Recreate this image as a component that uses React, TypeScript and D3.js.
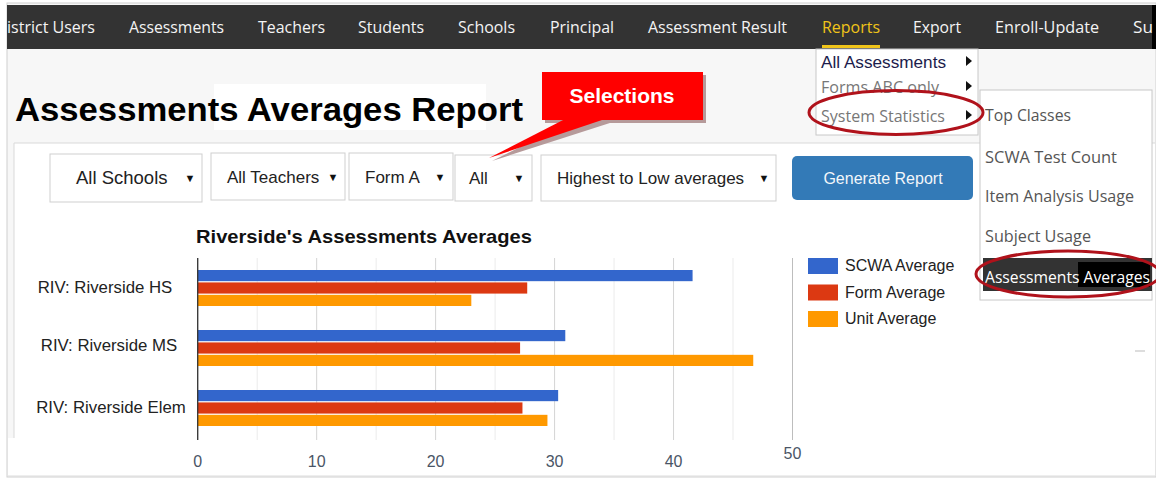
import React from "react";
import * as d3 from "d3";

// chart values
const SCHOOLS = ["RIV: Riverside HS", "RIV: Riverside MS", "RIV: Riverside Elem"];
const SCWA_AVG = [41.6, 30.9, 30.3];
const FORM_AVG = [27.7, 27.1, 27.3];
const UNIT_AVG = [23.0, 46.7, 29.4];
const SERIES = ["SCWA Average", "Form Average", "Unit Average"];
const COLORS = ["#3366cc", "#dc3912", "#ff9900"];
const X_TICKS = [0, 10, 20, 30, 40, 50];

const NAV = [
  "istrict Users",
  "Assessments",
  "Teachers",
  "Students",
  "Schools",
  "Principal",
  "Assessment Result",
  "Reports",
  "Export",
  "Enroll-Update",
  "Su",
];
const NAV_X = [7, 129, 258, 358, 458, 550, 648, 822, 913, 995, 1133];
const NAV_W = [88, 95, 67, 66, 57, 64, 139, 58, 48, 104, 20];

const MENU = ["All Assessments", "Forms ABC only", "System Statistics"];
const SUBMENU = ["Top Classes", "SCWA Test Count", "Item Analysis Usage", "Subject Usage"];

const W = 1156;
const H = 478;

export default function App() {
  const values = SCHOOLS.map((s, i) => ({
    school: s,
    vals: [SCWA_AVG[i], FORM_AVG[i], UNIT_AVG[i]],
  }));

  const x = d3.scaleLinear().domain([0, 50]).range([197.7, 792.5]);
  const y = d3
    .scaleBand()
    .domain(SCHOOLS)
    .range([258, 438])
    .paddingInner(0.4)
    .paddingOuter(0.2);
  const ySub = d3
    .scaleBand()
    .domain(SERIES)
    .range([0, y.bandwidth()])
    .paddingInner(0.1);
  const grid = d3.range(0, 51, 5);

  const navFont = "'Open Sans', 'Noto Sans', sans-serif";
  const arial = "'Liberation Sans', Arial, sans-serif";

  // dropdown boxes: [x, y, w, h, label, labelX, arrowX, fontSize]
  const selects: [number, number, number, number, string, number, number, number][] = [
    [50, 154, 152, 48, "All Schools", 76, 190, 18.5],
    [211, 153, 134, 47, "All Teachers", 227, 333, 17],
    [349, 153, 104, 47, "Form A", 365, 440, 17],
    [455, 155, 77, 46, "All", 469, 519, 17],
    [541, 155, 235, 46, "Highest to Low averages", 557, 764, 17],
  ];

  return (
    <svg
      width={W}
      height={H}
      style={{ position: "absolute", left: 0, top: 0, background: "#fff" }}
    >
      {/* page frame */}
      <rect x={0} y={0} width={W} height={H} fill="#fff" />
      <rect x={7} y={3} width={W - 7} height={H - 4} fill="#f7f7f7" stroke="#d0d0d0" />

      {/* nav bar */}
      <rect x={7} y={5} width={1146} height={44} fill="#333" />
      <rect x={1152} y={5} width={4} height={44} fill="#000" />
      {NAV.map((n, i) => (
        <text
          key={n}
          x={NAV_X[i]}
          y={33}
          fill={n === "Reports" ? "#f0c419" : "#f4f4f4"}
          fontFamily={navFont}
          fontSize={16}
          textLength={NAV_W[i]}
          lengthAdjust="spacingAndGlyphs"
        >
          {n}
        </text>
      ))}
      <rect x={822} y={45} width={58} height={3} fill="#f0c419" />

      {/* page title */}
      <rect x={214} y={84} width={272} height={46} fill="#fff" />
      <text
        x={15}
        y={121}
        fontFamily={arial}
        fontWeight="bold"
        fontSize={33}
        fill="#000"
        textLength={508}
        lengthAdjust="spacingAndGlyphs"
      >
        Assessments Averages Report
      </text>

      {/* report panel */}
      <rect x={14} y={143} width={1141} height={300} fill="#fff" />
      <path d="M14,443 V143 H1155" fill="none" stroke="#d9d9d9" />
      <rect x={8} y={438} width={1147} height={38} fill="#fff" />
      <line x1={8} x2={1155} y1={476} y2={476} stroke="#ddd" />

      {selects.map(([sx, sy, sw, sh, label, lx, ax, fs]) => (
        <g key={label}>
          <rect x={sx} y={sy} width={sw} height={sh} fill="#fff" stroke="#cfcfcf" />
          <text x={lx} y={sy + sh / 2 + 6} fontFamily={arial} fontSize={fs} fill="#222">
            {label}
          </text>
          <text x={ax} y={sy + sh / 2 + 4} fontFamily={arial} fontSize={11} fill="#111" textAnchor="middle">
            ▼
          </text>
        </g>
      ))}
      <rect x={792} y={156} width={181} height={44} rx={5} fill="#337ab7" />
      <text x={883} y={184} fontFamily={arial} fontSize={16} fill="#f2f6fa" textAnchor="middle">
        Generate Report
      </text>

      {/* chart title */}
      <text
        x={196}
        y={243}
        fontFamily={arial}
        fontWeight="bold"
        fontSize={19}
        fill="#111"
        textLength={336}
        lengthAdjust="spacingAndGlyphs"
      >
        Riverside's Assessments Averages
      </text>

      {/* gridlines */}
      {grid.map((g) => (
        <line
          key={g}
          x1={x(g)}
          x2={x(g)}
          y1={258}
          y2={440}
          stroke={g === 50 ? "#bdbdbd" : g % 10 === 0 ? "#d4d4d4" : "#ebebeb"}
          strokeWidth={1}
        />
      ))}

      {/* bars */}
      {values.map((d) => (
        <g key={d.school} transform={`translate(0,${y(d.school)})`}>
          {d.vals.map((v, j) => (
            <rect
              key={SERIES[j]}
              x={x(0)}
              y={ySub(SERIES[j])}
              width={x(v) - x(0)}
              height={ySub.bandwidth()}
              fill={COLORS[j]}
            />
          ))}
        </g>
      ))}
      <line x1={x(0)} x2={x(0)} y1={258} y2={440} stroke="#333" strokeWidth={1.3} />

      {/* category labels */}
      {SCHOOLS.map((s, i) => (
        <text
          key={s}
          x={[105, 109, 111][i]}
          y={(y(s) ?? 0) + y.bandwidth() / 2 + [5, 3, 5][i]}
          textAnchor="middle"
          fontFamily={arial}
          fontSize={16.8}
          fill="#222"
        >
          {s}
        </text>
      ))}

      {/* x tick labels */}
      {X_TICKS.map((t) => (
        <text
          key={t}
          x={x(t)}
          y={t === 50 ? 459 : 467}
          textAnchor="middle"
          fontFamily={arial}
          fontSize={16}
          fill="#4a5566"
        >
          {t}
        </text>
      ))}

      {/* legend */}
      {SERIES.map((s, i) => (
        <g key={s} transform={`translate(808,${258 + i * 26.5})`}>
          <rect width={30} height={16} fill={COLORS[i]} />
          <text x={37} y={13} fontFamily={arial} fontSize={16} fill="#222">
            {s}
          </text>
        </g>
      ))}
      <line x1={1135} x2={1145} y1={351} y2={351} stroke="#bbb" />

      {/* Selections callout */}
      <g transform="translate(3,3)" fill="#b69a9a">
        <rect x={542} y={72} width={161} height={48} />
        <polygon points="567,119 610,119 489,158" />
      </g>
      <rect x={542} y={72} width={161} height={48} fill="#ff0000" />
      <polygon points="567,118 608,118 489,158" fill="#ff0000" />
      <text
        x={622}
        y={103}
        textAnchor="middle"
        fontFamily={arial}
        fontWeight="bold"
        fontSize={21}
        fill="#fff"
      >
        Selections
      </text>

      {/* reports menu */}
      <rect x={816} y={49} width={162} height={86} fill="#fff" stroke="#c8c8c8" />
      {MENU.map((m, i) => (
        <g key={m}>
          <text
            x={821}
            y={[68, 93, 122][i]}
            fontFamily={i === 0 ? arial : navFont}
            fontSize={i === 0 ? 17 : 16}
            fill={i === 0 ? "#1c1c4c" : "#777"}
            textLength={[125, 118, 124][i]}
            lengthAdjust="spacingAndGlyphs"
          >
            {m}
          </text>
          <polygon
            points={`966,${[56, 81, 110][i]} 972,${[61, 86, 115][i]} 966,${[66, 91, 120][i]}`}
            fill="#111"
          />
        </g>
      ))}

      {/* system statistics submenu */}
      <rect x={980} y={90} width={172} height={210} fill="#fff" stroke="#c8c8c8" />
      {SUBMENU.map((m, i) => (
        <text
          key={m}
          x={985}
          y={[121, 163, 202, 242][i]}
          fontFamily={navFont}
          fontSize={16}
          fill="#555"
          textLength={[86, 132, 149, 106][i]}
          lengthAdjust="spacingAndGlyphs"
        >
          {m}
        </text>
      ))}
      <rect x={983} y={258} width={169} height={33} fill="#333" />
      <rect x={1078} y={262} width={72} height={25} fill="#000" />
      <text
        x={985}
        y={283}
        fontFamily={navFont}
        fontSize={16}
        fill="#fff"
        textLength={165}
        lengthAdjust="spacingAndGlyphs"
      >
        Assessments Averages
      </text>

      {/* highlight ellipses */}
      <ellipse cx={896} cy={112.5} rx={87} ry={22} fill="none" stroke="#b0121b" strokeWidth={3} />
      <ellipse cx={1068} cy={274} rx={92} ry={23} fill="none" stroke="#b0121b" strokeWidth={3} />
    </svg>
  );
}
